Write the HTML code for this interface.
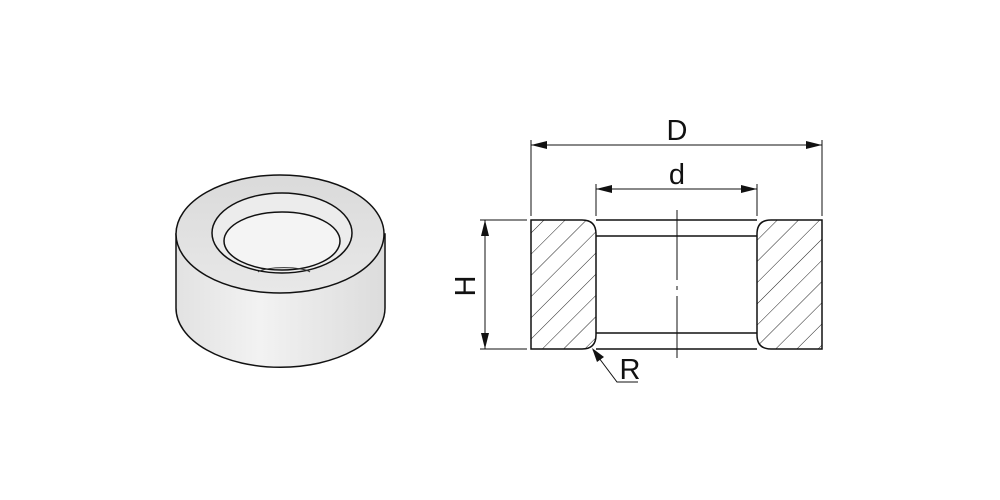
<!DOCTYPE html>
<html><head><meta charset="utf-8"><style>
html,body{margin:0;padding:0;background:#fff;width:1000px;height:500px;overflow:hidden}
text{font-family:"Liberation Sans",sans-serif;fill:#111}
</style></head><body>
<svg width="1000" height="500" viewBox="0 0 1000 500" xmlns="http://www.w3.org/2000/svg">
<defs>
<linearGradient id="side" x1="0" x2="1" y1="0" y2="0">
<stop offset="0" stop-color="#e2e2e2"/><stop offset="0.4" stop-color="#f2f2f2"/><stop offset="1" stop-color="#dcdcdc"/></linearGradient>
<linearGradient id="top" x1="0" x2="0" y1="0" y2="1">
<stop offset="0" stop-color="#dadada"/><stop offset="1" stop-color="#e8e8e8"/></linearGradient>
<pattern id="hatch" patternUnits="userSpaceOnUse" width="15" height="15" patternTransform="rotate(45)">
<line x1="0" y1="0" x2="0" y2="15" stroke="#222" stroke-width="1"/></pattern>
</defs>
<path d="M176,234 L176,308 A104,59 0 0 0 385,308 L385,234 Z" fill="url(#side)" stroke="#111" stroke-width="1.5"/>
<ellipse cx="280" cy="234" rx="104" ry="59" fill="url(#top)" stroke="#111" stroke-width="1.5"/>
<ellipse cx="282" cy="233" rx="70" ry="40" fill="#ececec" stroke="#111" stroke-width="1.5"/>
<ellipse cx="282" cy="241" rx="58" ry="29" fill="#f4f4f4" stroke="#111" stroke-width="1.5"/>
<path d="M258,272 A27,6 0 0 1 310,272" fill="none" stroke="#333" stroke-width="1"/>
<g stroke="#111" fill="none" stroke-width="1.5">
<path d="M531,220 L582,220 Q596,220 596,234 L596,335 Q596,349 582,349 L531,349 Z" fill="url(#hatch)"/>
<path d="M822,220 L771,220 Q757,220 757,234 L757,335 Q757,349 771,349 L822,349 Z" fill="url(#hatch)"/>
<line x1="596" y1="220" x2="757" y2="220"/>
<line x1="596" y1="349" x2="757" y2="349"/>
<line x1="596" y1="236" x2="757" y2="236"/>
<line x1="596" y1="333" x2="757" y2="333"/>
</g>
<g stroke="#111" stroke-width="1" fill="none">
<line x1="677" y1="210" x2="677" y2="280"/>
<line x1="677" y1="286" x2="677" y2="290"/>
<line x1="677" y1="296" x2="677" y2="358"/>
<line x1="531" y1="140" x2="531" y2="216"/>
<line x1="822" y1="140" x2="822" y2="216"/>
<line x1="596" y1="184" x2="596" y2="216"/>
<line x1="757" y1="184" x2="757" y2="216"/>
<line x1="531" y1="145" x2="822" y2="145"/>
<line x1="596" y1="189" x2="757" y2="189"/>
<line x1="480" y1="220" x2="527" y2="220"/>
<line x1="480" y1="349" x2="527" y2="349"/>
<line x1="485" y1="220" x2="485" y2="349"/>
<polyline points="593,350 617,382 638,382"/>
</g>
<g fill="#111">
<polygon points="531,145 547,141 547,149"/>
<polygon points="822,145 806,141 806,149"/>
<polygon points="596,189 612,185 612,193"/>
<polygon points="757,189 741,185 741,193"/>
<polygon points="485,220 481,236 489,236"/>
<polygon points="485,349 481,333 489,333"/>
<polygon points="592,348 597,362 604,357"/>
</g>
<text x="677" y="140" font-size="29" text-anchor="middle">D</text>
<text x="677" y="184" font-size="29" text-anchor="middle">d</text>
<text x="630" y="379" font-size="29" text-anchor="middle">R</text>
<text transform="translate(475,286) rotate(-90)" font-size="29" text-anchor="middle">H</text>
</svg>
</body></html>
